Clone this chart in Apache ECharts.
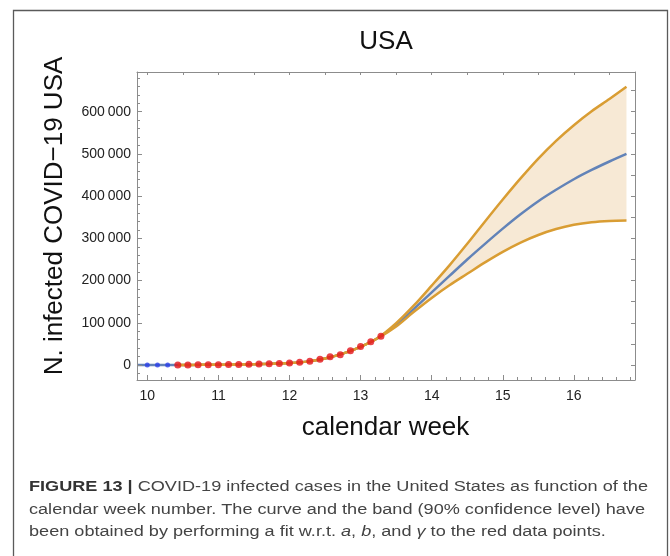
<!DOCTYPE html>
<html><head><meta charset="utf-8">
<script src="https://cdn.jsdelivr.net/npm/echarts@6/dist/echarts.min.js"></script>
<style>html,body{margin:0;padding:0;background:#fff}#c{width:670px;height:556px}</style>
</head><body><div id="c"></div>
<script>
// ---- data ----
const blueWeeks = [10.000, 10.143, 10.286];
const blueCases = [100, 124, 158];
const redWeeks = [10.429, 10.571, 10.714, 10.857, 11.000, 11.143, 11.286, 11.429, 11.571, 11.714, 11.857,
                  12.000, 12.143, 12.286, 12.429, 12.571, 12.714, 12.857, 13.000, 13.143, 13.286];
const redCases = [221, 319, 435, 541, 704, 994, 1301, 1630, 2183, 2770, 3613,
                  4596, 6344, 9197, 13779, 19367, 24192, 33592, 43781, 54856, 68211];
const fitWeeks = [9.855, 10.0, 10.25, 10.5, 10.75, 11.0, 11.25, 11.5, 11.75, 12.0, 12.25, 12.5, 12.75, 13.0, 13.25,
                  13.5, 13.75, 14.0, 14.25, 14.5, 14.75, 15.0, 15.25, 15.5, 15.75, 16.0, 16.25, 16.5, 16.74];
const fitCenter = [40, 70, 130, 240, 420, 720, 1150, 1800, 2900, 4700, 8000, 15500, 27000, 43000, 64500,
                   95000, 133000, 172000, 211000, 250000, 287000, 323000, 357000, 388000, 415000, 440000, 462000, 482000, 500000];
const bandWeeks = [10.43, 10.75, 11.0, 11.25, 11.5, 11.75, 12.0, 12.25, 12.5, 12.75, 13.0, 13.25,
                   13.5, 13.75, 14.0, 14.25, 14.5, 14.75, 15.0, 15.25, 15.5, 15.75, 16.0, 16.25, 16.5, 16.74];
const bandUpper = [220, 420, 720, 1150, 1800, 2900, 4700, 8000, 15500, 27000, 43000, 65000,
                   99000, 141000, 188000, 236000, 287000, 340000, 392000, 442000, 489000, 531000, 568000, 601000, 630000, 659000];
const bandLower = [220, 420, 720, 1150, 1800, 2900, 4700, 8000, 15500, 27000, 43000, 64000,
                   91000, 126000, 159000, 189000, 216000, 243000, 268000, 290000, 308000, 322000, 332000, 338000, 341000, 342000];
const xTickLabels = [10, 11, 12, 13, 14, 15, 16];
const yTickLabels = [0, 100000, 200000, 300000, 400000, 500000, 600000];

// ---- tick helpers ----
function range(a, b, s) { const r = []; for (let v = a; v <= b + 1e-9; v += s) r.push(Math.round(v * 1000) / 1000); return r; }
const X_MIN = 9.855, X_MAX = 16.86, Y_MIN = -35500, Y_MAX = 694000;
const AX = '#8c8c8c';
const FAM = '"Liberation Sans", Arial, sans-serif';
const LABEL = { color: '#222', fontSize: 14, fontFamily: FAM };

const pairs = (xs, ys) => xs.map((x, i) => [x, ys[i]]);
// band rows are given as [value, week] so that the stacked dimension is the case count
const bandBaseRows = bandWeeks.map((x, i) => [bandLower[i], x]);
const bandDiffRows = bandWeeks.map((x, i) => [bandUpper[i] - bandLower[i], x]);

// caption width fitting (reference caption font is wider than Liberation Sans)
const CAP_SIZE = 15.5;
const ctx = document.createElement('canvas').getContext('2d');
ctx.font = 'bold ' + CAP_SIZE + 'px ' + FAM;
let w1 = ctx.measureText('FIGURE 13 |').width;
ctx.font = CAP_SIZE + 'px ' + FAM;
w1 += ctx.measureText(' COVID-19 infected cases in the United States as function of the').width;
const capScale = 619 / w1;

const baseX = { type: 'value', min: X_MIN, max: X_MAX, splitLine: { show: false }, z: 10 };
const baseY = { type: 'value', min: Y_MIN, max: Y_MAX, splitLine: { show: false }, z: 10 };

const capStyle = (text, rich) => ({ text, fontSize: CAP_SIZE, fontFamily: FAM, fill: '#444',
  align: 'left', verticalAlign: 'middle', rich: rich || {} });

const chart = echarts.init(document.getElementById('c'), null, { renderer: 'canvas' });
chart.setOption({
  animation: false,
  backgroundColor: '#fff',
  grid: { left: 137, top: 72, width: 498, height: 308, containLabel: false },
  xAxis: [
    Object.assign({}, baseX, { position: 'bottom',
      axisLine: { onZero: false, lineStyle: { color: AX, width: 1 } },
      axisTick: { inside: true, length: 5, lineStyle: { color: AX }, customValues: xTickLabels },
      axisLabel: Object.assign({ margin: 9, customValues: xTickLabels, formatter: v => String(v) }, LABEL) }),
    Object.assign({}, baseX, { position: 'bottom',
      axisLine: { show: false, onZero: false },
      axisTick: { inside: true, length: 3, lineStyle: { color: AX }, customValues: range(10, 16.8, 0.2) },
      axisLabel: { show: false } }),
    Object.assign({}, baseX, { position: 'top',
      axisLine: { onZero: false, lineStyle: { color: AX, width: 1 } },
      axisTick: { inside: true, length: 3, lineStyle: { color: AX }, customValues: range(10, 16.5, 0.5) },
      axisLabel: { show: false } })
  ],
  yAxis: [
    Object.assign({}, baseY, { position: 'left',
      axisLine: { onZero: false, lineStyle: { color: AX, width: 1 } },
      axisTick: { inside: true, length: 5, lineStyle: { color: AX }, customValues: yTickLabels },
      axisLabel: Object.assign({ margin: 6, customValues: yTickLabels,
        formatter: v => v === 0 ? '0' : (v / 1000) + '\u2009000' }, LABEL) }),
    Object.assign({}, baseY, { position: 'left',
      axisLine: { show: false, onZero: false },
      axisTick: { inside: true, length: 3, lineStyle: { color: AX }, customValues: range(-20000, 680000, 20000) },
      axisLabel: { show: false } }),
    Object.assign({}, baseY, { position: 'right',
      axisLine: { onZero: false, lineStyle: { color: AX, width: 1 } },
      axisTick: { inside: true, length: 4, lineStyle: { color: AX }, customValues: range(0, 650000, 50000) },
      axisLabel: { show: false } })
  ],
  series: [
    // confidence band: stacked (lower bound + width), the width series filled
    { name: 'bandBase', type: 'line', stack: 'band', data: bandBaseRows, encode: { x: 1, y: 0 },
      smooth: 0.3, showSymbol: false, lineStyle: { opacity: 0 }, z: 1, silent: true },
    { name: 'band', type: 'line', stack: 'band', data: bandDiffRows, encode: { x: 1, y: 0 },
      smooth: 0.3, showSymbol: false, lineStyle: { opacity: 0 },
      areaStyle: { color: '#f7e9d5', opacity: 1 }, z: 1, silent: true },
    { name: 'fit', type: 'line', data: pairs(fitWeeks, fitCenter), smooth: 0.3, showSymbol: false,
      lineStyle: { color: '#6283b8', width: 2.5 }, z: 3 },
    { name: 'upper', type: 'line', data: pairs(bandWeeks, bandUpper), smooth: 0.3, showSymbol: false,
      lineStyle: { color: '#d99d33', width: 2.5 }, z: 4 },
    { name: 'lower', type: 'line', data: pairs(bandWeeks, bandLower), smooth: 0.3, showSymbol: false,
      lineStyle: { color: '#d99d33', width: 2.5 }, z: 4 },
    { name: 'blue points', type: 'scatter', data: pairs(blueWeeks, blueCases), symbolSize: 5,
      itemStyle: { color: '#2b3fe8' }, z: 5 },
    { name: 'red points', type: 'scatter', data: pairs(redWeeks, redCases), symbolSize: 7,
      itemStyle: { color: '#e3141c' }, z: 5 }
  ],
  graphic: [
    { type: 'rect', shape: { x: 13.5, y: 10.5, width: 654, height: 560 },
      style: { fill: 'none', stroke: '#5a5a5a', lineWidth: 1.3 }, silent: true },
    { type: 'text', x: 386, y: 42,
      style: { text: 'USA', fontSize: 26, fontFamily: FAM, fill: '#111', align: 'center', verticalAlign: 'middle' } },
    { type: 'text', x: 55, y: 216, rotation: Math.PI / 2,
      style: { text: 'N. infected COVID\u221219 USA', fontSize: 26, fontFamily: FAM, fill: '#111', align: 'center', verticalAlign: 'middle' } },
    { type: 'text', x: 385.5, y: 428,
      style: { text: 'calendar week', fontSize: 26, fontFamily: FAM, fill: '#111', align: 'center', verticalAlign: 'middle' } },
    { type: 'text', x: 29, y: 487, scaleX: capScale,
      style: capStyle('{b|FIGURE 13 |} COVID-19 infected cases in the United States as function of the',
        { b: { fontWeight: 'bold', fontSize: CAP_SIZE, fontFamily: FAM, fill: '#333', verticalAlign: 'middle' } }) },
    { type: 'text', x: 29, y: 509.5, scaleX: capScale,
      style: capStyle('calendar week number. The curve and the band (90% confidence level) have') },
    { type: 'text', x: 29, y: 531.5, scaleX: capScale,
      style: capStyle('been obtained by performing a fit w.r.t. {i|a}, {i|b}, and {i|\u03b3} to the red data points.',
        { i: { fontStyle: 'italic', fontSize: CAP_SIZE, fontFamily: FAM, fill: '#444', verticalAlign: 'middle' } }) }
  ]
});
</script></body></html>
